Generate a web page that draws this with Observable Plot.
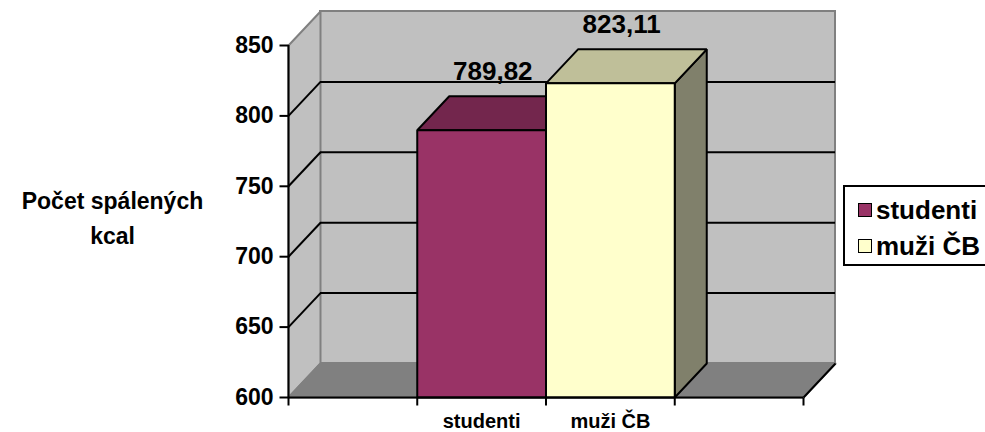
<!DOCTYPE html>
<html>
<head>
<meta charset="utf-8">
<script src="https://cdn.jsdelivr.net/npm/d3@7"></script>
<script src="https://cdn.jsdelivr.net/npm/@observablehq/plot@0.6"></script>
<style>
  html, body { margin: 0; padding: 0; background: #fff; overflow: hidden; }
  #wrap { position: relative; width: 985px; height: 432px; font-family: "Liberation Sans", Arial, sans-serif; }
  #legend { position: absolute; left: 843px; top: 185px; width: 160px; height: 81px; border: 2px solid #000; background: #fff; box-sizing: border-box; }
  .item { position: absolute; left: 13px; display: flex; align-items: center; font-weight: bold; font-size: 26px; line-height: 30px; color: #000; white-space: nowrap; }
  .sw { width: 12px; height: 12px; border: 1.5px solid #000; margin-right: 4px; }
</style>
</head>
<body>
<div id="wrap"></div>
<script>
// ---- data ----
const categories = ["studenti", "muži ČB"];
const values = [789.82, 823.11];
const frontColors = ["#993366", "#FFFFCC"];
const topColors = ["#73264D", "#BFBF99"];
const sideColors = ["#4D1A33", "#80806B"];
const yTicks = [600, 650, 700, 750, 800, 850];
const gridValues = [650, 700, 750, 800];
const xSlots = [0, 1, 2, 3, 4];
const yTitle = "Počet spálených\nkcal";

// ---- geometry ----
const W = 985, H = 432;
const mL = 288, mR = 182, mT = 45, mB = 35;
const xDomain = [0, 4], yDomain = [600, 850];
const pxX = (xDomain[1] - xDomain[0]) / (W - mL - mR);
const pxY = (yDomain[1] - yDomain[0]) / (H - mT - mB);
const DX = 32 * pxX;   // depth offset (x units)
const DY = 34 * pxY;   // depth offset (y units)
const y0 = yDomain[0], yTop = yDomain[1], xEnd = xDomain[1];

const poly = (id, pts, fill) => pts.map(([x, y]) => ({id, x, y, fill}));

const leftWall = poly("lw", [[0, y0], [0, yTop], [DX, yTop + DY], [DX, y0 + DY]], "#C0C0C0");
const floor = poly("fl", [[0, y0], [xEnd, y0], [xEnd + DX, y0 + DY], [DX, y0 + DY]], "#808080");

const barFaces = [];
categories.forEach((c, i) => {
  const v = values[i], a = i + 1, b = i + 2;
  barFaces.push(...poly(c + "-side", [[b, y0], [b, v], [b + DX, v + DY], [b + DX, y0 + DY]], sideColors[i]));
  barFaces.push(...poly(c + "-top", [[a, v], [b, v], [b + DX, v + DY], [a + DX, v + DY]], topColors[i]));
  barFaces.push(...poly(c + "-front", [[a, y0], [a, v], [b, v], [b, y0]], frontColors[i]));
});

const bars = categories.map((c, i) => ({c, v: values[i], i}));
const fmt = v => v.toFixed(2).replace(".", ",");
const font = {fontFamily: "Liberation Sans, Arial, sans-serif", fontWeight: "bold"};

const chart = Plot.plot({
  width: W, height: H,
  marginLeft: mL, marginRight: mR, marginTop: mT, marginBottom: mB,
  x: {type: "linear", domain: xDomain, axis: null},
  y: {type: "linear", domain: yDomain, axis: null},
  color: {type: "identity"},
  style: {background: "#fff", fontFamily: "Liberation Sans, Arial, sans-serif", overflow: "visible"},
  marks: [
    // back wall
    Plot.rect([0], {x1: DX, x2: xEnd + DX, y1: y0 + DY, y2: yTop + DY, fill: "#C0C0C0", stroke: "#808080", strokeWidth: 2}),
    // left wall and floor
    Plot.line(leftWall, {x: "x", y: "y", z: "id", fill: "fill", stroke: "#808080", strokeWidth: 2, curve: "linear-closed"}),
    Plot.line(floor, {x: "x", y: "y", z: "id", fill: "fill", stroke: "#808080", strokeWidth: 2, curve: "linear-closed"}),
    // gridlines on back wall
    Plot.ruleY(gridValues, {y: d => d + DY, x1: DX, x2: xEnd + DX, stroke: "#000", strokeWidth: 2}),
    // gridlines on left wall
    Plot.link(gridValues, {x1: 0, y1: d => d, x2: DX, y2: d => d + DY, stroke: "#000", strokeWidth: 2}),
    // right floor edge
    Plot.link([y0], {x1: xEnd, y1: d => d, x2: xEnd + DX, y2: d => d + DY, stroke: "#000", strokeWidth: 2}),
    // bars
    Plot.line(barFaces, {x: "x", y: "y", z: "id", fill: "fill", stroke: "#000", strokeWidth: 2, strokeLinejoin: "miter", curve: "linear-closed"}),
    // axes lines
    Plot.ruleX([0], {y1: y0, y2: yTop, stroke: "#000", strokeWidth: 2}),
    Plot.ruleY([y0], {x1: 0, x2: xEnd, stroke: "#000", strokeWidth: 2}),
    // y ticks
    Plot.link(yTicks, {x1: -9 * pxX, x2: 0, y1: d => d, y2: d => d, stroke: "#000", strokeWidth: 2}),
    Plot.text(yTicks, {x: 0, y: d => d, text: d => String(d), textAnchor: "end", dx: -15, fontSize: 23, fill: "#000", ...font}),
    // x ticks
    Plot.link(xSlots, {x1: d => d, x2: d => d, y1: y0, y2: y0 - 8 * pxY, stroke: "#000", strokeWidth: 2}),
    // category labels
    Plot.text(bars, {x: d => d.i + 1.5, y: y0, text: "c", dy: 24, fontSize: 20, fill: "#000", ...font}),
    // value labels
    Plot.text(bars, {x: d => d.i + 1.5 + DX * 0.35, y: d => d.v + DY, text: d => fmt(d.v), dy: -25, fontSize: 26, fill: "#000", ...font}),
    // y title
    Plot.text([yTitle], {frameAnchor: "left", text: d => d, dx: -176, dy: -6, lineHeight: 1.52, textAnchor: "middle", fontSize: 23, fill: "#000", ...font})
  ]
});

const wrap = document.getElementById("wrap");
wrap.appendChild(chart);

// legend
const legend = document.createElement("div");
legend.id = "legend";
categories.forEach((c, i) => {
  const it = document.createElement("div");
  it.className = "item";
  it.style.top = (i === 0 ? 8 : 44) + "px";
  const sw = document.createElement("span");
  sw.className = "sw";
  sw.style.background = frontColors[i];
  const tx = document.createElement("span");
  tx.textContent = c;
  it.appendChild(sw); it.appendChild(tx);
  legend.appendChild(it);
});
wrap.appendChild(legend);
</script>
</body>
</html>
